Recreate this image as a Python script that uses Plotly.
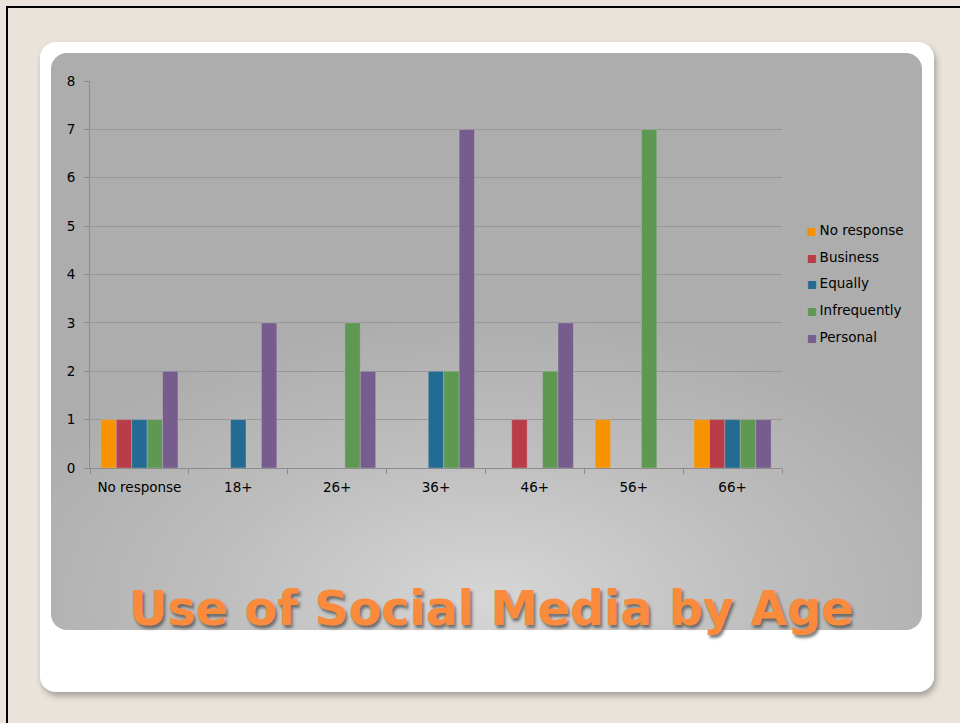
import base64
import plotly.graph_objects as go

categories = ["No response", "18+", "26+", "36+", "46+", "56+", "66+"]
series_names = ["No response", "Business", "Equally", "Infrequently", "Personal"]
no_response = [1, None, None, None, None, 1, 1]
business = [1, None, None, None, 1, None, 1]
equally = [1, 1, None, 2, None, None, 1]
infrequently = [1, None, 3, 2, 2, 7, 1]
personal = [2, 3, 2, 7, 3, None, 1]
series_values = [no_response, business, equally, infrequently, personal]
colors = ["#F79300", "#B83D48", "#236B92", "#5E9853", "#775D8E"]
y_ticks = [0, 1, 2, 3, 4, 5, 6, 7, 8]
title_text = "Use of Social Media by Age"

W, H = 960, 723
L, R, T, B = 90, 782, 81, 468
FONT = "DejaVu Sans, Verdana, sans-serif"

svg = f"""<svg xmlns='http://www.w3.org/2000/svg' width='{W}' height='{H}' viewBox='0 0 {W} {H}'>
<defs>
<radialGradient id='g' cx='490' cy='600' r='520' fx='490' fy='600' gradientUnits='userSpaceOnUse' gradientTransform='translate(490 600) scale(1 0.55) translate(-490 -600)'>
<stop offset='0' stop-color='#D6D6D6'/>
<stop offset='0.55' stop-color='#BDBDBD'/>
<stop offset='1' stop-color='#ADADAD'/>
</radialGradient>
<filter id='s' x='-5%' y='-5%' width='110%' height='115%'>
<feDropShadow dx='2' dy='4' stdDeviation='3' flood-color='#000' flood-opacity='0.3'/>
</filter>
</defs>
<rect x='0' y='0' width='{W}' height='{H}' fill='#E9E3DB'/>
<rect x='6' y='6' width='{W}' height='2' fill='#000'/>
<rect x='6' y='6' width='2' height='{H}' fill='#000'/>
<rect x='40' y='42' width='894' height='650' rx='16' ry='16' fill='#FFFFFF' filter='url(#s)'/>
<rect x='51' y='53' width='871' height='577' rx='16' ry='16' fill='url(#g)'/>
</svg>"""
uri = "data:image/svg+xml;base64," + base64.b64encode(svg.encode()).decode()

pw, ph = R - L, B - T

def px_x(x):
    return (x - L) / pw

def px_y(y):
    return 1 - (y - T) / ph

fig = go.Figure()
for name, vals, col in zip(series_names, series_values, colors):
    fig.add_trace(go.Bar(
        x=categories, y=vals, name=name, showlegend=False,
        marker=dict(color=col, line=dict(color="rgba(200,200,200,0.6)", width=0.6)),
    ))

annotations = []
legend_top, legend_step = 230, 26.7
for i, (name, col) in enumerate(zip(series_names, colors)):
    annotations.append(dict(
        text=f"<span style='color:{col};font-size:10.5px'>■</span>\u2009{name}",
        xref="paper", yref="paper", x=px_x(805), y=px_y(legend_top + i * legend_step),
        xanchor="left", yanchor="middle", showarrow=False,
        font=dict(family=FONT, size=13.5, color="#000"),
    ))
annotations.append(dict(
    text=f"<b>{title_text}</b>", xref="paper", yref="paper",
    x=px_x(491), y=px_y(608), xanchor="center", yanchor="middle",
    showarrow=False,
    font=dict(family=FONT, size=47.5, color="#FA8A3C",
              shadow="2px 3px 3px rgba(70,70,70,0.7)"),
))

fig.update_layout(
    width=W, height=H,
    margin=dict(l=L, r=W - R, t=T, b=H - B),
    paper_bgcolor="#E9E3DB",
    plot_bgcolor="rgba(0,0,0,0)",
    barmode="group",
    bargap=0.22,
    bargroupgap=0,
    font=dict(family=FONT, size=13.5, color="#000"),
    showlegend=False,
    images=[dict(
        source=uri, xref="paper", yref="paper",
        x=-L / pw, y=1 + T / ph, sizex=W / pw, sizey=H / ph,
        xanchor="left", yanchor="top", sizing="stretch", layer="below",
    )],
    xaxis=dict(
        showline=True, linecolor="#8C8C8C", linewidth=1,
        ticks="outside", tickson="boundaries", ticklen=5, tickcolor="#8C8C8C",
        showgrid=False, tickfont=dict(size=13.5), ticklabelstandoff=7,
    ),
    yaxis=dict(
        range=[0, 8], tickvals=y_ticks, showline=True, linecolor="#8C8C8C", linewidth=1,
        ticks="outside", ticklen=5, tickcolor="#8C8C8C",
        showgrid=True, gridcolor="#979797", gridwidth=1, zeroline=False,
        tickfont=dict(size=13.5), ticklabelstandoff=6,
    ),
    annotations=annotations,
)

fig.write_html(
    "out.html",
    config={"displayModeBar": False},
    post_script="document.body.style.margin='0';document.body.style.background='#E9E3DB';",
)
